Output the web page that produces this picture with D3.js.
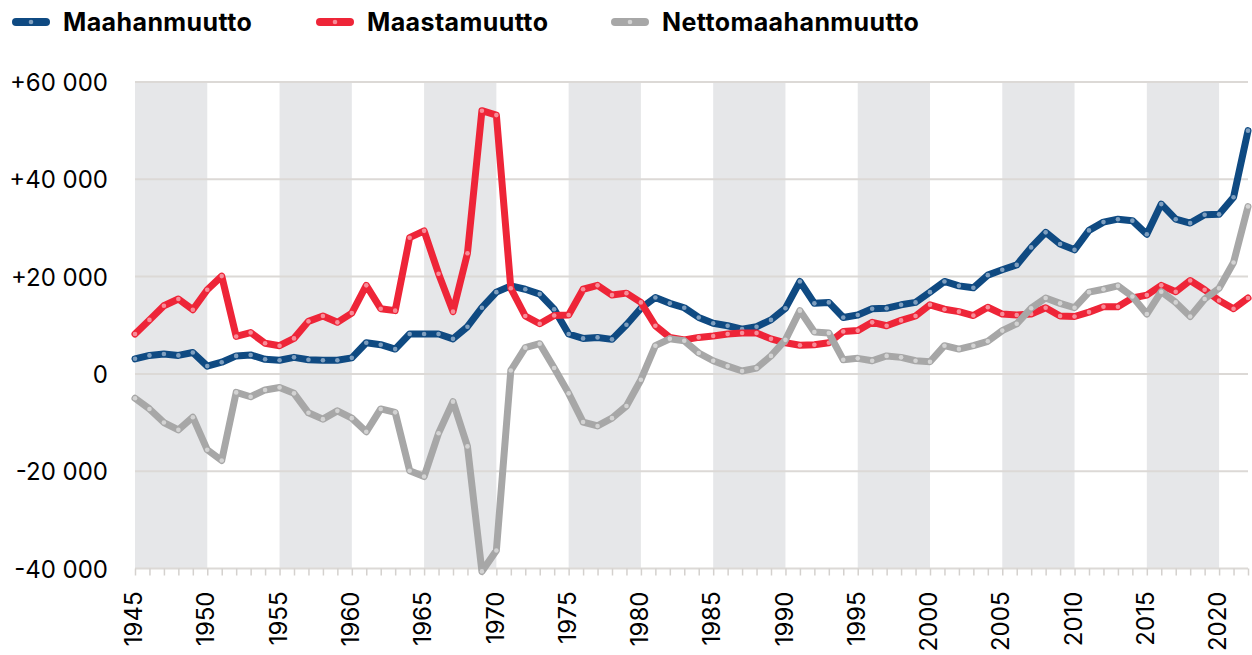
<!DOCTYPE html>
<html>
<head>
<meta charset="utf-8">
<script src="https://cdn.jsdelivr.net/npm/d3@7"></script>
<style>
  body { margin: 0; background: #fff; }
  svg { display: block; }
  .legend text { font-family: Inter, Roboto, sans-serif; font-weight: 700; font-size: 25px; letter-spacing: 0.4px; fill: #000; }
  .axis text { font-family: Inter, "Liberation Sans", sans-serif; font-size: 24px; fill: #000; }
</style>
</head>
<body>
<div id="chart"></div>
<script>
// vuodet 1945-2022
const years = d3.range(1945, 2023);

const maahanmuutto = [
  3100, 3800, 4100, 3800, 4400, 1600, 2400, 3700, 3900, 3000,
  2800, 3400, 2900, 2800, 2800, 3300, 6400, 6000, 5100, 8200,
  8200, 8200, 7200, 9700, 13600, 16800, 18100, 17400, 16400, 13300,
  8200, 7300, 7500, 7100, 10100, 13500, 15700, 14500, 13600, 11600,
  10400, 9900, 9200, 9700, 11100, 13500, 19000, 14500, 14700, 11600,
  12100, 13400, 13500, 14200, 14700, 16800, 19000, 18100, 17700, 20300,
  21400, 22400, 26000, 29100, 26700, 25500, 29500, 31200, 31800, 31500,
  28700, 34900, 31800, 31000, 32700, 32800, 36300, 50000
];

const maastamuutto = [
  8200, 11100, 14000, 15400, 13200, 17300, 20100, 7700, 8500, 6300,
  5800, 7300, 10800, 11900, 10600, 12500, 18200, 13400, 13000, 28000,
  29400, 20600, 12800, 24800, 54100, 53200, 17600, 11900, 10300, 12000,
  12100, 17400, 18200, 16200, 16600, 14700, 9900, 7500, 7000, 7500,
  7800, 8200, 8400, 8400, 7200, 6400, 5900, 6000, 6400, 8700,
  8900, 10600, 9900, 11000, 11900, 14200, 13300, 12800, 12000, 13700,
  12300, 12100, 12300, 13600, 11900, 11800, 12700, 13800, 13800, 15600,
  16200, 18200, 16900, 19200, 17300, 15100, 13400, 15600
];

const nettomaahanmuutto = [
  -5000, -7200, -10000, -11500, -8900, -15600, -17800, -3800, -4700, -3300,
  -2800, -4000, -8000, -9300, -7600, -9100, -11900, -7200, -7900, -19900,
  -21100, -12200, -5700, -14900, -40600, -36300, 700, 5400, 6200, 1200,
  -4000, -9900, -10700, -9100, -6600, -1200, 5800, 7200, 6800, 4300,
  2700, 1600, 600, 1200, 3700, 7000, 13000, 8600, 8400, 2900,
  3200, 2700, 3700, 3400, 2700, 2500, 5800, 5100, 5800, 6700,
  8900, 10300, 13500, 15600, 14500, 13600, 16800, 17400, 18100, 15900,
  12300, 16900, 14700, 11800, 15400, 17600, 22900, 34400
];

const seriesNames = ["Maahanmuutto", "Maastamuutto", "Nettomaahanmuutto"];
const yTicks = [-40000, -20000, 0, 20000, 40000, 60000];

const lineColors = ["#0f4a82", "#ee2538", "#a7a7a7"];
const dotColors = ["#7f9fbf", "#f78d99", "#d3d3d3"];

const width = 1252, height = 655;
const svg = d3.select("#chart").append("svg")
  .attr("width", width).attr("height", height);

const x = d3.scaleLinear().domain([1945, 2022]).range([135, 1248]);
const y = d3.scaleLinear().domain([-40000, 60000]).range([568.5, 82]);

// harmaat 5 vuoden raidat
const bands = d3.range(1945, 2022, 10);
svg.append("g").selectAll("rect")
  .data(bands).enter().append("rect")
  .attr("x", d => x(d))
  .attr("width", d => x(d + 5) - x(d))
  .attr("y", y(60000))
  .attr("height", y(-40000) - y(60000))
  .attr("fill", "#e6e7e9");

// vaakaviivat
svg.append("g").selectAll("line")
  .data(yTicks).enter().append("line")
  .attr("x1", x(1945)).attr("x2", x(2022))
  .attr("y1", d => y(d)).attr("y2", d => y(d))
  .attr("stroke", "#dcd9d6").attr("stroke-width", 2);

// y-akseli
const fi = d3.formatLocale({ decimal: ",", thousands: "\u00a0", grouping: [3], currency: ["", "€"], minus: "-" });
const fmt = fi.format(",");
const yAxis = d3.axisLeft(y).tickValues(yTicks).tickSize(0).tickPadding(0)
  .tickFormat(d => (d > 0 ? "+" : "") + fmt(d));
svg.append("g").attr("class", "axis")
  .attr("transform", "translate(108,0)")
  .call(yAxis)
  .call(g => g.select(".domain").remove())
  .selectAll("text").attr("dy", "0.36em");

// x-akseli
const xAxis = d3.axisBottom(x).tickValues(years).tickSize(7).tickFormat(d => d % 5 === 0 ? d : "");
const gx = svg.append("g").attr("class", "axis")
  .attr("transform", `translate(0,${y(-40000)})`)
  .call(xAxis);
gx.select(".domain").remove();
gx.selectAll(".tick line").attr("stroke", "#d4d1ce").attr("stroke-width", 1.5);
gx.selectAll("text")
  .attr("transform", "rotate(-90)")
  .attr("text-anchor", "end")
  .attr("x", -23)
  .attr("y", -2)
  .attr("dy", "0.36em");

// viivat
const allSeries = [maahanmuutto, maastamuutto, nettomaahanmuutto];
const line = d3.line().x((d, i) => x(years[i])).y(d => y(d));

allSeries.forEach((data, s) => {
  const g = svg.append("g");
  g.append("path")
    .attr("d", line(data))
    .attr("fill", "none")
    .attr("stroke", lineColors[s])
    .attr("stroke-width", 7)
    .attr("stroke-linejoin", "round")
    .attr("stroke-linecap", "round");
  g.selectAll("circle").data(data).enter().append("circle")
    .attr("cx", (d, i) => x(years[i]))
    .attr("cy", d => y(d))
    .attr("r", 2.3)
    .attr("fill", dotColors[s]);
});

// selite
const legendX = [12, 316, 611];
const legend = svg.append("g").attr("class", "legend");
seriesNames.forEach((name, i) => {
  const lg = legend.append("g").attr("transform", `translate(${legendX[i]},22)`);
  lg.append("line")
    .attr("x1", 4).attr("x2", 34).attr("y1", 0).attr("y2", 0)
    .attr("stroke", lineColors[i]).attr("stroke-width", 8)
    .attr("stroke-linecap", "round");
  lg.append("circle").attr("cx", 19).attr("cy", 0).attr("r", 2.3).attr("fill", dotColors[i]);
  lg.append("text").attr("x", 51).attr("y", 0).attr("dy", "0.36em").text(name);
});
</script>
</body>
</html>
